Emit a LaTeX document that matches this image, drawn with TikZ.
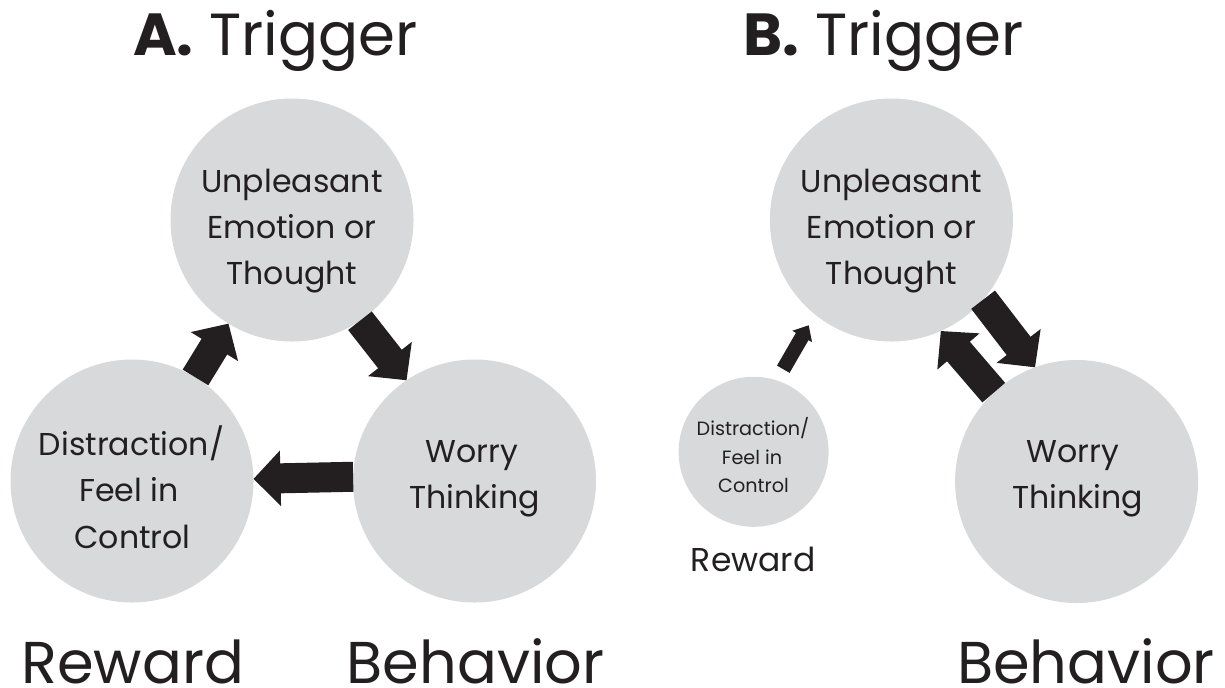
\documentclass[tikz,border=0pt]{standalone}
\usepackage{fontspec}
\setmainfont{Poppins}
\usetikzlibrary{arrows.meta}
\definecolor{ink}{HTML}{231F20}
\definecolor{disc}{HTML}{D8D9DB}
\begin{document}
\begin{tikzpicture}[x=0.5pt,y=-0.5pt,
  bubble/.style={circle,fill=disc,draw=none,inner sep=0pt,outer sep=0pt,minimum size=121.5pt},
  smallbubble/.style={circle,fill=disc,draw=none,inner sep=0pt,outer sep=0pt,minimum size=75pt},
  txt/.style={anchor=base,inner sep=0pt,text=ink,font=\fontsize{15.8}{19}\selectfont},
  midlabel/.style={anchor=base,inner sep=0pt,text=ink,font=\fontsize{16.5}{20}\selectfont},
  smalltxt/.style={anchor=base,inner sep=0pt,text=ink,font=\fontsize{9.6}{12}\selectfont},
  title/.style={anchor=base,inner sep=0pt,text=ink,font=\fontsize{29.7}{36}\selectfont},
  biglabel/.style={anchor=base,inner sep=0pt,text=ink,font=\fontsize{29.5}{35}\selectfont},
  bigarrow/.style={draw=ink,line width=15pt,-{Triangle[length=13.5pt,width=27pt]}},
  smallarrow/.style={draw=ink,line width=7.25pt,-{Triangle[length=6.5pt,width=11pt]}}
]
\useasboundingbox (0,0) rectangle (1225,687);

% ---------- Panel A ----------
\node[title] (tA) at (275.5,55) {\textbf{A.} Trigger};
\node[bubble] (cAt) at (292,220) {};
\node[bubble] (cAl) at (132,481) {};
\node[bubble] (cAr) at (474.5,481) {};

\node[txt] (a1) at (292,192.7) {Unpleasant};
\node[txt] (a2) at (292,238.7) {Emotion or};
\node[txt] (a3) at (292,284.7) {Thought};

\node[txt] (a4) at (131.5,455.3) {Distraction/};
\node[txt] (a5) at (129,501.6) {Feel in};
\node[txt] (a6) at (132.5,548) {Control};

\node[txt] (a7) at (472,462) {Worry};
\node[txt] (a8) at (474.5,508) {Thinking};

\node[biglabel] (rA) at (132.8,683) {Reward};
\node[biglabel] (bA) at (475.5,683) {Behavior};

\draw[bigarrow] (cAl) -- (cAt);
\draw[bigarrow] (cAt.-56.5) -- (cAr.124);
\draw[bigarrow] (cAr.178.7) -- (cAl.1.3);

% ---------- Panel B ----------
\node[title] (tB) at (883.5,55) {\textbf{B.} Trigger};
\node[bubble] (cBt) at (891.4,220) {};
\node[bubble] (cBw) at (1076.6,481.5) {};
\node[smallbubble] (cBs) at (753.6,451.8) {};

\node[txt] (b1) at (891.4,192.7) {Unpleasant};
\node[txt] (b2) at (891.4,238.7) {Emotion or};
\node[txt] (b3) at (891.4,284.7) {Thought};

\node[txt] (b4) at (1073,462) {Worry};
\node[txt] (b5) at (1077.5,508) {Thinking};

\node[smalltxt] (b6) at (753,435.8) {Distraction/};
\node[smalltxt] (b7) at (752,464.3) {Feel in};
\node[smalltxt] (b8) at (753.5,492.8) {Control};

\node[midlabel] (rB) at (753.2,571.6) {Reward};
\node[biglabel] (bB) at (1085.9,683) {Behavior};

\draw[smallarrow,shorten <=6.5pt,shorten >=6.25pt] (cBs.72) -- (cBt.231);
\draw[bigarrow] (cBt.-41) -- (cBw.110);
\draw[bigarrow] (cBw.133) -- (cBt.-66);
\end{tikzpicture}
\end{document}
